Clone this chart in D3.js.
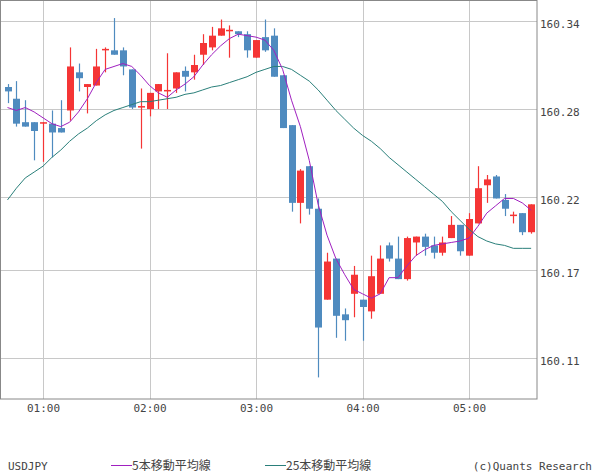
<!DOCTYPE html>
<html><head><meta charset="utf-8">
<script src="https://cdn.jsdelivr.net/npm/d3@7"></script>
<style>body{margin:0;background:#fff}svg{display:block}text{font-family:"DejaVu Sans Mono","Liberation Mono",monospace;fill:#444}</style>
</head><body>
<script>
const startTime = "00:40"; // 5-minute candles
const openP  = [160.295,160.287,160.271,160.271,160.270,160.270,160.267,160.279,160.305,160.295,160.296,160.320,160.320,160.320,160.307,160.281,160.280,160.292,160.292,160.294,160.306,160.305,160.317,160.322,160.330,160.333,160.333,160.331,160.315,160.329,160.330,160.303,160.269,160.216,160.241,160.212,160.150,160.178,160.140,160.154,160.150,160.142,160.154,160.187,160.178,160.164,160.189,160.193,160.187,160.182,160.192,160.201,160.180,160.202,160.228,160.234,160.218,160.207,160.209,160.196];
const highP  = [160.297,160.299,160.286,160.271,160.271,160.279,160.286,160.322,160.311,160.297,160.321,160.322,160.342,160.322,160.307,160.294,160.291,160.297,160.318,160.305,160.309,160.317,160.331,160.336,160.341,160.337,160.333,160.333,160.327,160.341,160.335,160.303,160.269,160.239,160.241,160.219,160.182,160.178,160.144,160.173,160.150,160.180,160.187,160.189,160.193,160.193,160.193,160.195,160.193,160.193,160.207,160.201,160.209,160.241,160.235,160.235,160.222,160.210,160.209,160.215];
const lowP   = [160.284,160.268,160.268,160.245,160.244,160.247,160.264,160.272,160.292,160.277,160.296,160.305,160.317,160.303,160.280,160.253,160.275,160.280,160.280,160.291,160.292,160.300,160.310,160.320,160.330,160.315,160.329,160.315,160.315,160.319,160.302,160.267,160.210,160.202,160.208,160.097,160.150,160.124,160.122,160.138,160.122,160.137,160.154,160.176,160.164,160.163,160.180,160.180,160.178,160.180,160.192,160.180,160.180,160.202,160.216,160.219,160.207,160.202,160.194,160.195];
const closeP = [160.292,160.270,160.268,160.265,160.271,160.264,160.264,160.309,160.301,160.297,160.309,160.321,160.317,160.309,160.281,160.282,160.291,160.297,160.293,160.305,160.302,160.310,160.325,160.330,160.335,160.334,160.331,160.320,160.327,160.320,160.302,160.267,160.216,160.238,160.212,160.131,160.176,160.139,160.136,160.167,160.145,160.166,160.178,160.178,160.164,160.192,160.193,160.186,160.182,160.189,160.201,160.183,160.205,160.226,160.232,160.219,160.212,160.208,160.196,160.215];
const ma5  = [160.281,160.279,160.281,160.278,160.274,160.270,160.268,160.271,160.278,160.287,160.298,160.307,160.309,160.311,160.309,160.303,160.296,160.291,160.288,160.293,160.297,160.302,160.310,160.317,160.323,160.328,160.331,160.330,160.329,160.327,160.320,160.307,160.286,160.268,160.245,160.215,160.194,160.178,160.167,160.157,160.154,160.151,160.154,160.165,160.165,160.173,160.180,160.184,160.187,160.188,160.189,160.190,160.192,160.200,160.209,160.214,160.219,160.219,160.216,160.211];
const ma25 = [160.218,160.226,160.233,160.237,160.241,160.247,160.252,160.258,160.263,160.267,160.272,160.276,160.279,160.281,160.283,160.285,160.285,160.286,160.287,160.288,160.290,160.291,160.293,160.295,160.296,160.298,160.300,160.302,160.305,160.307,160.309,160.309,160.307,160.303,160.299,160.293,160.286,160.279,160.273,160.267,160.262,160.258,160.253,160.247,160.242,160.237,160.232,160.227,160.222,160.217,160.210,160.204,160.198,160.193,160.190,160.188,160.187,160.185,160.185,160.185];
const yTicks = [160.34,160.28,160.22,160.17,160.11];
const xTickLabels = ["01:00","02:00","03:00","04:00","05:00"];
const xTickIndex = [4,16,28,40,52];
const legendLabels = ["USDJPY","5本移動平均線","25本移動平均線","(c)Quants Research"];

const W=600,H=475, L=0, R=537, T=0, B=399;
const svg=d3.select("body").append("svg").attr("width",W).attr("height",H);
const n=openP.length;
const x=d3.scaleLinear().domain([0,n-1]).range([7.5,7.5+8.875*(n-1)]);
const y=d3.scaleLinear().domain([160.34,160.28]).range([21,109]);

svg.append("g").selectAll("line").data(yTicks).join("line")
 .attr("x1",L).attr("x2",R).attr("y1",d=>Math.round(y(d))+0.5).attr("y2",d=>Math.round(y(d))+0.5).attr("stroke","#c8c8c8");
svg.append("g").selectAll("line").data(xTickIndex).join("line")
 .attr("x1",d=>Math.round(x(d))+0.5).attr("x2",d=>Math.round(x(d))+0.5).attr("y1",T).attr("y2",B).attr("stroke","#c8c8c8");

const g=svg.append("g");
const cw=7;
d3.range(n).forEach(i=>{
  const up=closeP[i]>=openP[i];
  const col=up?"#f53535":"#4f8bbf";
  const cx=Math.round(x(i))+0.5;
  g.append("line").attr("x1",cx).attr("x2",cx).attr("y1",y(highP[i])).attr("y2",y(lowP[i])).attr("stroke",col).attr("stroke-width",1.2);
  const top=y(Math.max(openP[i],closeP[i])), bot=y(Math.min(openP[i],closeP[i]));
  g.append("rect").attr("x",cx-cw/2).attr("width",cw).attr("y",top).attr("height",Math.max(1.5,bot-top)).attr("fill",col);
});

const line=arr=>d3.line().x((d,i)=>x(i)).y(d=>y(d))(arr);
svg.append("path").attr("d",line(ma25)).attr("fill","none").attr("stroke","#2a7f7a").attr("stroke-width",1);
svg.append("path").attr("d",line(ma5)).attr("fill","none").attr("stroke","#a020c0").attr("stroke-width",1);

svg.append("rect").attr("x",0.5).attr("y",0.5).attr("width",R-0.5).attr("height",B-0.5).attr("fill","none").attr("stroke","#888");

const yAxis=d3.axisRight(y).tickValues(yTicks).tickFormat(d3.format(".2f")).tickSize(0);
const ya=svg.append("g").attr("transform",`translate(${R+1},3)`).call(yAxis);
ya.select(".domain").remove();
ya.selectAll("text").attr("x",2).style("font-size","11px").attr("fill","#444");
const xAxis=d3.axisBottom(x).tickValues(xTickIndex).tickFormat((d,i)=>xTickLabels[i]).tickSize(0);
const xa=svg.append("g").attr("transform",`translate(0,${B+2})`).call(xAxis);
xa.select(".domain").remove();
xa.selectAll("text").style("font-size","11px").attr("fill","#444");

const ly=470;
svg.append("text").attr("x",8).attr("y",ly).style("font-size","11px").text(legendLabels[0]);
svg.append("line").attr("x1",111).attr("x2",132).attr("y1",ly-4.5).attr("y2",ly-4.5).attr("stroke","#a020c0");
svg.append("text").attr("x",132).attr("y",ly).style("font-size","12px").style("font-family","'Noto Sans CJK JP'").text(legendLabels[1]);
svg.append("line").attr("x1",265).attr("x2",286).attr("y1",ly-4.5).attr("y2",ly-4.5).attr("stroke","#2a7f7a");
svg.append("text").attr("x",286).attr("y",ly).style("font-size","12px").style("font-family","'Noto Sans CJK JP'").text(legendLabels[2]);
svg.append("text").attr("x",592).attr("y",ly).attr("text-anchor","end").style("font-size","11px").text(legendLabels[3]);
</script>
</body></html>
